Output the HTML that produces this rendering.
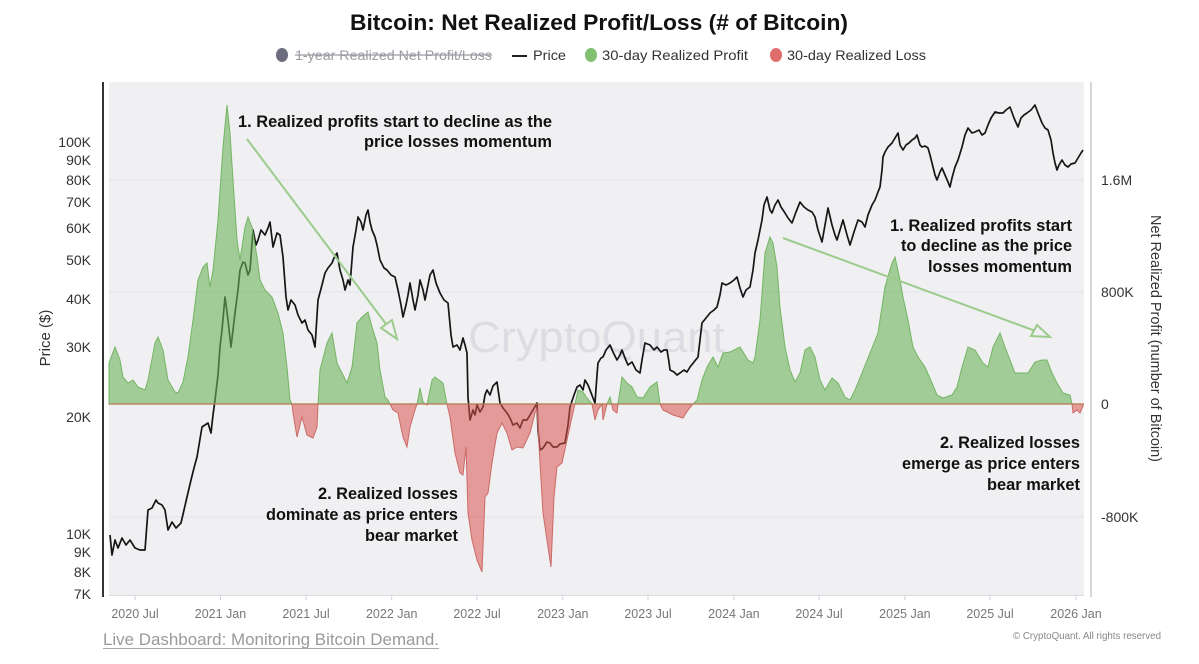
<!DOCTYPE html>
<html><head><meta charset="utf-8">
<style>
html,body{margin:0;padding:0;background:#fff;}
svg{display:block;}
text{font-family:"Liberation Sans",Arial,sans-serif;}
</style></head>
<body>
<svg width="1199" height="664" viewBox="0 0 1199 664" xmlns="http://www.w3.org/2000/svg">
<defs>
<clipPath id="above"><rect x="100" y="70" width="1000" height="334"/></clipPath>
<clipPath id="below"><rect x="100" y="404" width="1000" height="200"/></clipPath>
</defs>
<rect width="1199" height="664" fill="#fff"/>
<!-- title -->
<text x="350" y="30" font-size="22" font-weight="bold" fill="#111" textLength="498" lengthAdjust="spacingAndGlyphs">Bitcoin: Net Realized Profit/Loss (# of Bitcoin)</text>
<!-- legend -->
<ellipse cx="282" cy="55" rx="6" ry="7" fill="#6d6d7d"/>
<text x="295" y="60" font-size="14" fill="#9a9aa2" textLength="197" lengthAdjust="spacingAndGlyphs">1-year Realized Net Profit/Loss</text>
<line x1="295" y1="55" x2="492" y2="55" stroke="#9a9aa2" stroke-width="1.2"/>
<line x1="512" y1="56" x2="527" y2="56" stroke="#222" stroke-width="2"/>
<text x="533" y="60" font-size="14" fill="#333" textLength="33" lengthAdjust="spacingAndGlyphs">Price</text>
<ellipse cx="591" cy="55" rx="6" ry="7" fill="#80c070"/>
<text x="602" y="60" font-size="14" fill="#333" textLength="146" lengthAdjust="spacingAndGlyphs">30-day Realized Profit</text>
<ellipse cx="776" cy="55" rx="6" ry="7" fill="#df6f6a"/>
<text x="787" y="60" font-size="14" fill="#333" textLength="139" lengthAdjust="spacingAndGlyphs">30-day Realized Loss</text>

<!-- plot background -->
<rect x="109" y="82" width="975" height="513" fill="#f0f0f3"/>
<g stroke="#e3e3e8" stroke-width="1">
<line x1="109" y1="180" x2="1084" y2="180"/>
<line x1="109" y1="292" x2="1084" y2="292"/>
<line x1="109" y1="517" x2="1084" y2="517"/>
</g>
<line x1="109" y1="595.5" x2="1084" y2="595.5" stroke="#dcdce2" stroke-width="1"/>
<g stroke="#d0d0d6" stroke-width="1">
<line x1="135" y1="595" x2="135" y2="600"/><line x1="220.5" y1="595" x2="220.5" y2="600"/>
<line x1="306" y1="595" x2="306" y2="600"/><line x1="391.7" y1="595" x2="391.7" y2="600"/>
<line x1="477" y1="595" x2="477" y2="600"/><line x1="562.8" y1="595" x2="562.8" y2="600"/>
<line x1="648" y1="595" x2="648" y2="600"/><line x1="733.9" y1="595" x2="733.9" y2="600"/>
<line x1="819" y1="595" x2="819" y2="600"/><line x1="904.9" y1="595" x2="904.9" y2="600"/>
<line x1="990" y1="595" x2="990" y2="600"/><line x1="1076" y1="595" x2="1076" y2="600"/>
</g>
<!-- axes lines -->
<line x1="103" y1="82" x2="103" y2="597" stroke="#333" stroke-width="2"/>
<line x1="1091" y1="82" x2="1091" y2="597" stroke="#c8c8cc" stroke-width="1.5"/>

<!-- watermark -->
<text x="468" y="352" font-size="44" fill="#dcdce3" textLength="257" lengthAdjust="spacingAndGlyphs">CryptoQuant</text>

<!-- price line -->
<polyline fill="none" stroke="#161616" stroke-width="1.7" stroke-linejoin="round" points="110,535 112,555 115,540 118,548 122,538 126,545 130,540 135,548 140,550 145,550 148,510 152,508 156,500 158,503 162,505 165,510 168,530 172,522 176,528 181,523 184,510 187,497 191,480 194,468 197,457 199,445 202,427 205,425 208,423 211,433 213,415 215,400 218,375 220,347 222,330 225,297 228,320 231,347 233,330 235,313 238,290 240,270 243,262 245,263 248,275 250,270 253,230 256,245 258,240 261,230 265,235 268,228 270,222 273,247 277,233 280,235 283,257 286,297 288,310 291,300 295,305 298,315 302,323 305,320 308,330 312,335 315,347 318,300 322,285 325,273 328,268 332,263 334,258 337,253 340,270 343,280 345,290 348,280 350,285 353,247 356,230 358,217 361,222 363,230 366,215 368,210 370,222 372,230 375,237 377,245 380,260 384,268 387,270 391,275 395,277 398,290 401,305 403,317 406,305 408,295 410,283 413,300 415,310 418,295 420,280 423,290 425,300 428,285 430,275 433,270 436,283 440,293 444,300 448,303 451,335 453,347 457,345 460,350 463,338 465,345 467,353 468,397 470,420 473,410 475,415 477,405 480,412 483,407 485,395 487,390 490,395 493,386 497,382 500,403 503,408 507,413 510,418 513,425 517,423 520,428 523,420 527,420 530,415 533,410 537,403 538,430 540,450 543,448 547,442 550,443 553,447 557,447 560,444 565,443 568,425 570,407 574,395 577,387 580,385 583,390 585,380 588,385 590,390 593,398 595,403 597,375 598,363 601,358 603,357 606,350 610,345 613,352 617,360 620,355 622,350 625,358 628,365 632,362 636,370 640,373 642,360 645,343 650,345 654,350 657,347 661,352 664,350 667,350 669,362 670,370 674,372 677,375 680,373 684,370 687,372 690,367 694,362 698,357 700,340 702,323 706,318 710,313 714,310 717,307 720,295 722,283 726,285 730,283 734,280 737,277 740,288 743,297 746,290 750,287 753,270 755,253 758,240 762,220 764,205 767,197 770,210 772,213 775,205 778,200 781,207 785,213 788,218 792,223 796,212 800,202 804,207 808,210 812,212 815,217 818,230 822,242 825,225 828,208 832,225 835,235 837,240 840,230 843,220 847,235 850,245 854,232 858,220 862,222 865,227 868,215 872,205 875,200 878,192 880,187 882,170 883,157 885,152 888,147 892,143 895,138 898,133 900,145 903,150 906,145 909,143 912,140 915,138 917,135 920,145 922,147 925,146 928,148 930,155 932,163 935,175 937,180 940,172 942,168 945,175 948,182 950,187 952,178 955,167 958,160 962,147 965,135 968,128 972,133 975,132 979,130 982,135 985,133 988,125 991,118 995,112 999,113 1003,113 1006,110 1010,107 1014,118 1018,127 1021,118 1024,115 1027,113 1031,110 1035,105 1038,113 1042,123 1045,128 1048,130 1051,140 1053,153 1055,163 1057,170 1059,165 1062,160 1065,165 1068,167 1071,164 1075,163 1078,158 1081,153 1083,150"/>

<!-- net profit/loss area -->
<g id="area">
<polygon clip-path="url(#above)" fill="#6cb35a" fill-opacity="0.6" stroke="#74b563" stroke-width="1" points="109,404 109,363 115,347 120,360 123,377 128,383 133,380 138,387 145,390 148,380 155,343 158,337 163,350 168,380 175,392 178,393 183,382 188,357 193,320 198,280 203,267 207,263 210,287 213,270 218,220 223,147 227,105 230,133 233,180 237,240 240,260 245,227 248,217 252,227 257,257 260,280 265,290 272,297 278,313 283,333 287,367 290,400 292,404 293,413 297,437 302,417 307,435 313,438 317,427 318,404 320,370 327,343 332,333 337,363 342,373 347,383 352,367 357,323 362,317 368,312 372,327 377,343 380,370 385,397 388,400 390,404 393,410 398,413 403,437 407,447 410,427 415,410 417,404 420,388 423,402 427,405 432,380 435,377 443,383 447,404 450,417 455,453 460,473 463,475 466,447 468,513 472,540 477,560 482,572 485,497 488,493 492,463 497,433 502,423 507,433 512,450 517,447 523,448 530,433 535,413 537,410 540,463 543,513 548,547 551,567 554,497 557,467 562,463 567,440 572,417 575,404 578,390 583,392 587,398 592,404 595,420 598,410 602,404 603,420 607,404 610,397 613,410 617,413 618,404 622,377 627,383 632,387 637,397 643,398 650,387 657,382 660,404 663,410 673,415 683,418 688,410 693,404 697,400 702,380 707,367 713,357 718,367 723,353 730,352 740,347 748,360 753,363 755,357 760,320 765,253 770,237 773,243 777,267 780,307 785,347 790,370 795,382 800,373 805,350 810,347 815,357 820,380 825,390 832,378 838,383 845,397 850,400 855,390 862,373 870,353 878,333 885,287 892,263 895,257 900,280 903,297 908,320 913,347 918,357 925,367 932,383 937,395 943,398 952,395 957,387 962,367 968,347 975,350 983,363 988,367 993,347 1000,333 1005,347 1010,360 1015,373 1022,373 1028,373 1035,362 1042,360 1047,360 1052,373 1057,383 1063,393 1070,395 1072,404 1073,413 1077,410 1080,413 1083,406 1083,404"/>
<polygon clip-path="url(#below)" fill="#d9534f" fill-opacity="0.55" stroke="#cc6a66" stroke-width="1" points="109,404 109,363 115,347 120,360 123,377 128,383 133,380 138,387 145,390 148,380 155,343 158,337 163,350 168,380 175,392 178,393 183,382 188,357 193,320 198,280 203,267 207,263 210,287 213,270 218,220 223,147 227,105 230,133 233,180 237,240 240,260 245,227 248,217 252,227 257,257 260,280 265,290 272,297 278,313 283,333 287,367 290,400 292,404 293,413 297,437 302,417 307,435 313,438 317,427 318,404 320,370 327,343 332,333 337,363 342,373 347,383 352,367 357,323 362,317 368,312 372,327 377,343 380,370 385,397 388,400 390,404 393,410 398,413 403,437 407,447 410,427 415,410 417,404 420,388 423,402 427,405 432,380 435,377 443,383 447,404 450,417 455,453 460,473 463,475 466,447 468,513 472,540 477,560 482,572 485,497 488,493 492,463 497,433 502,423 507,433 512,450 517,447 523,448 530,433 535,413 537,410 540,463 543,513 548,547 551,567 554,497 557,467 562,463 567,440 572,417 575,404 578,390 583,392 587,398 592,404 595,420 598,410 602,404 603,420 607,404 610,397 613,410 617,413 618,404 622,377 627,383 632,387 637,397 643,398 650,387 657,382 660,404 663,410 673,415 683,418 688,410 693,404 697,400 702,380 707,367 713,357 718,367 723,353 730,352 740,347 748,360 753,363 755,357 760,320 765,253 770,237 773,243 777,267 780,307 785,347 790,370 795,382 800,373 805,350 810,347 815,357 820,380 825,390 832,378 838,383 845,397 850,400 855,390 862,373 870,353 878,333 885,287 892,263 895,257 900,280 903,297 908,320 913,347 918,357 925,367 932,383 937,395 943,398 952,395 957,387 962,367 968,347 975,350 983,363 988,367 993,347 1000,333 1005,347 1010,360 1015,373 1022,373 1028,373 1035,362 1042,360 1047,360 1052,373 1057,383 1063,393 1070,395 1072,404 1073,413 1077,410 1080,413 1083,406 1083,404"/>
</g>
<line x1="109" y1="404" x2="1084" y2="404" stroke="#b2774f" stroke-width="1.2"/>

<!-- arrows -->
<g stroke="#9ccb8c" stroke-width="2" fill="none">
<line x1="247" y1="139" x2="386" y2="324"/>
<polygon points="381,328 392,320 397,339" fill="#f0f0f3"/>
<line x1="783" y1="238" x2="1034" y2="330.5"/>
<polygon points="1031,336 1037,325 1050,337" fill="#f0f0f3"/>
</g>

<!-- annotations -->
<g font-size="17" font-weight="bold" fill="#111">
<text x="238" y="127" textLength="314" lengthAdjust="spacingAndGlyphs">1. Realized profits start to decline as the</text>
<text x="364" y="147" textLength="188" lengthAdjust="spacingAndGlyphs">price losses momentum</text>
<text x="890" y="231" textLength="182" lengthAdjust="spacingAndGlyphs">1. Realized profits start</text>
<text x="901" y="251" textLength="171" lengthAdjust="spacingAndGlyphs">to decline as the price</text>
<text x="928" y="272" textLength="144" lengthAdjust="spacingAndGlyphs">losses momentum</text>
<text x="940" y="448" textLength="140" lengthAdjust="spacingAndGlyphs">2. Realized losses</text>
<text x="902" y="469" textLength="178" lengthAdjust="spacingAndGlyphs">emerge as price enters</text>
<text x="987" y="490" textLength="93" lengthAdjust="spacingAndGlyphs">bear market</text>
<text x="318" y="499" textLength="140" lengthAdjust="spacingAndGlyphs">2. Realized losses</text>
<text x="266" y="520" textLength="192" lengthAdjust="spacingAndGlyphs">dominate as price enters</text>
<text x="365" y="541" textLength="93" lengthAdjust="spacingAndGlyphs">bear market</text>
</g>

<!-- left tick labels -->
<g font-size="14" fill="#333" text-anchor="end">
<text x="91" y="147">100K</text>
<text x="91" y="165">90K</text>
<text x="91" y="185">80K</text>
<text x="91" y="207">70K</text>
<text x="91" y="233">60K</text>
<text x="91" y="265">50K</text>
<text x="91" y="304">40K</text>
<text x="91" y="352">30K</text>
<text x="91" y="422">20K</text>
<text x="91" y="539">10K</text>
<text x="91" y="557">9K</text>
<text x="91" y="577">8K</text>
<text x="91" y="599">7K</text>
</g>
<text transform="translate(50,338) rotate(-90)" font-size="15" fill="#333" text-anchor="middle">Price ($)</text>

<!-- right tick labels -->
<g font-size="14" fill="#333">
<text x="1101" y="185">1.6M</text>
<text x="1101" y="297">800K</text>
<text x="1101" y="409">0</text>
<text x="1101" y="522">-800K</text>
</g>
<text transform="translate(1151,338.5) rotate(90)" font-size="15" fill="#333" text-anchor="middle" textLength="247" lengthAdjust="spacingAndGlyphs">Net Realized Profit (number of Bitcoin)</text>

<!-- x tick labels -->
<g font-size="12.5" fill="#777" text-anchor="middle">
<text x="135" y="618">2020 Jul</text>
<text x="220.5" y="618">2021 Jan</text>
<text x="306" y="618">2021 Jul</text>
<text x="391.7" y="618">2022 Jan</text>
<text x="477" y="618">2022 Jul</text>
<text x="562.8" y="618">2023 Jan</text>
<text x="648" y="618">2023 Jul</text>
<text x="733.9" y="618">2024 Jan</text>
<text x="819" y="618">2024 Jul</text>
<text x="904.9" y="618">2025 Jan</text>
<text x="990" y="618">2025 Jul</text>
<text x="1076" y="618">2026 Jan</text>
</g>

<!-- footer -->
<text x="103" y="645" font-size="17" fill="#9a9a9a" textLength="336" lengthAdjust="spacingAndGlyphs">Live Dashboard: Monitoring Bitcoin Demand.</text>
<line x1="103" y1="648.5" x2="439" y2="648.5" stroke="#a8a8a8" stroke-width="1"/>
<text x="1013" y="639" font-size="10.5" fill="#888" textLength="148" lengthAdjust="spacingAndGlyphs">© CryptoQuant. All rights reserved</text>
</svg>
</body></html>
